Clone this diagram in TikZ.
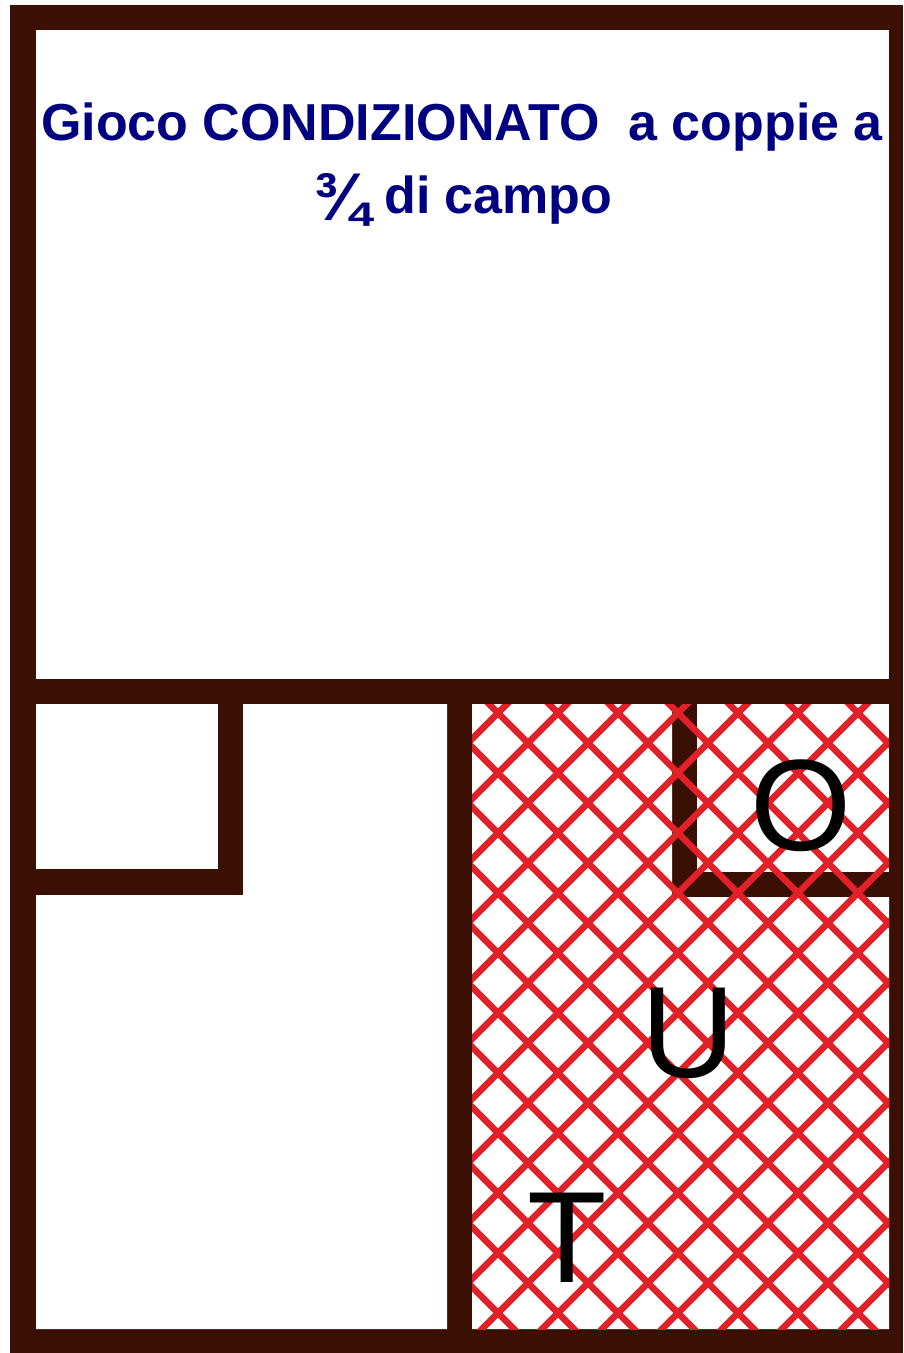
\documentclass[tikz,border=0pt]{standalone}
\usepackage{fontspec}
\usepackage{graphicx}
\setmainfont{Liberation Sans}
\definecolor{framebrown}{RGB}{58,16,4}
\definecolor{titlenavy}{RGB}{0,0,128}
\definecolor{hatchred}{RGB}{226,32,40}
\tikzset{
  cell/.style={fill=white, draw=none},
  hatchline/.style={draw=hatchred, line width=6.5pt, line cap=round},
  titletext/.style={text=titlenavy, font=\bfseries\fontsize{52}{60}\selectfont, inner sep=0pt, anchor=base},
  bigletter/.style={text=black, font=\fontsize{130}{150}\selectfont, inner sep=0pt, anchor=base}
}
\begin{document}
\begin{tikzpicture}[x=1pt, y=-1pt]
\useasboundingbox (0,0) rectangle (903,1353);
\fill[white] (0,0) rectangle (903,1353);
% frame / walls
\fill[framebrown] (10,5) rectangle (903,1353);
% top cell
\fill[cell] (36,30) rectangle (889,679);
% bottom-left small cell
\fill[cell] (36,704) rectangle (218,869);
% bottom-left L cell
\fill[cell] (243,704) -- (447,704) -- (447,1329) -- (36,1329) -- (36,895) -- (243,895) -- cycle;
% right L cell
\fill[cell] (472,704) -- (672,704) -- (672,897) -- (889,897) -- (889,1329) -- (472,1329) -- cycle;
% right small cell (O)
\fill[cell] (697,704) rectangle (889,872);
% hatching
\begin{scope}
\clip (472,704) rectangle (889,1329);
\foreach \n in {-10,...,9} {
  \pgfmathsetmacro{\c}{1691+60*\n}
  \draw[hatchline] ({\c-1400},1400) -- ({\c-600},600);
}
\foreach \n in {-10,...,10} {
  \pgfmathsetmacro{\d}{-335+60*\n}
  \draw[hatchline] ({\d+600},600) -- ({\d+1400},1400);
}
\end{scope}
% title
\node[titletext] (title1) at (462,140) {Gioco CONDIZIONATO\ \ a coppie a};
\node[titletext] (title2) at (463,213) {\raisebox{-7pt}{\scalebox{1.3}{¾}} di campo};
% letters
\node[bigletter] (lo) at (801,850) {O};
\node[bigletter] (lu) at (688,1077) {U};
\node[bigletter] (lt) at (567,1282) {T};
\end{tikzpicture}
\end{document}
